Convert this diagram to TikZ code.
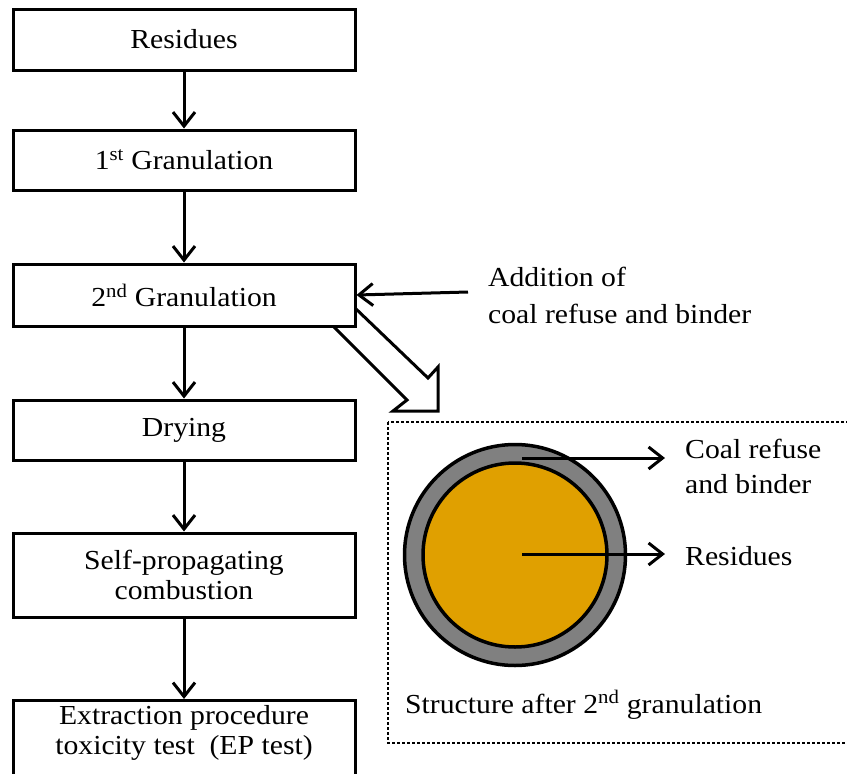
\documentclass[tikz,border=0pt]{standalone}
\usepackage{fontspec}
\setmainfont{Liberation Serif}[FakeStretch=1.08]
\usetikzlibrary{arrows.meta,positioning}
\definecolor{coreorange}{RGB}{224,160,0}
\definecolor{ringgrey}{RGB}{128,128,128}

\begin{document}
\begin{tikzpicture}[x=1pt,y=-1pt,
		>={Straight Barb[length=14pt,width=22pt]},
		font=\fontsize{27.5}{30}\selectfont,
		stepbox/.style={rectangle,draw,line width=3pt,fill=white,minimum width=342pt,align=center,inner sep=3pt},
		flow/.style={->,line width=3pt},
		sidetext/.style={align=left,inner sep=0pt}]
		\useasboundingbox (0,0) rectangle (847,774);
		\clip (0,0) rectangle (847,774);
		
		% hollow arrow towards the structure
		\draw[line width=3pt,fill=white,line join=miter] (333,326) -- (407,400) -- (393,411) -- (438,411) -- (438,367) -- (428,378) -- (355,308);
		
		\node[stepbox,minimum height=61pt] (res) at (184,39.5) {Residues};
		\node[stepbox,minimum height=60pt] (gran1) at (184,160) {1\textsuperscript{st} Granulation};
		\node[stepbox,minimum height=62pt] (gran2) at (184,295) {2\textsuperscript{nd} Granulation};
		\node[stepbox,minimum height=60pt] (dry) at (184,430) {Drying};
		\node[stepbox,minimum height=84pt] (spc) at (184,575) {Self-propagating\\combustion};
		\node[stepbox,anchor=north,inner ysep=5pt] (ept) at (184,699) {Extraction procedure\\toxicity test~~(EP test)\\\mbox{}};
		
		\draw[flow] (res) -- (gran1);
		\draw[flow] (gran1) -- (gran2);
		\draw[flow] (gran2) -- (dry);
		\draw[flow] (dry) -- (spc);
		\draw[flow] (spc) -- (ept);
		
		\node[sidetext,anchor=north west,font=\fontsize{27.5}{37}\selectfont] (add) at (488,267) {Addition of\\coal refuse and binder};
		\coordinate (addtail) at (468,292);
		\draw[flow] (addtail) -- (gran2.east);
		
		\begin{scope}
			\draw[line width=2.5pt,dash pattern=on 3pt off 2pt] (388,422) rectangle (880,743);
			\node[circle,draw,line width=3.5pt,fill=ringgrey,minimum size=221pt] (shell) at (515,555) {};
			\node[circle,draw,line width=3.5pt,fill=coreorange,minimum size=184pt] (core) at (shell.center) {};
			\node[sidetext,anchor=north west,font=\fontsize{27.5}{35}\selectfont] (coal) at (685,439) {Coal refuse\\and binder};
			\node[sidetext,anchor=base west] (resid) at (685,565) {Residues};
			\node[sidetext,anchor=base west] (struct) at (405,713) {Structure after 2\textsuperscript{nd} granulation};
			\coordinate (shellpt) at (522,458);
			\coordinate (shellend) at (665,458);
			\coordinate (corept) at (522,554);
			\coordinate (coreend) at (665,554);
			\draw[flow] (shellpt) -- (shellend);
			\draw[flow] (corept) -- (coreend);
		\end{scope}
	\end{tikzpicture}
\end{document}
